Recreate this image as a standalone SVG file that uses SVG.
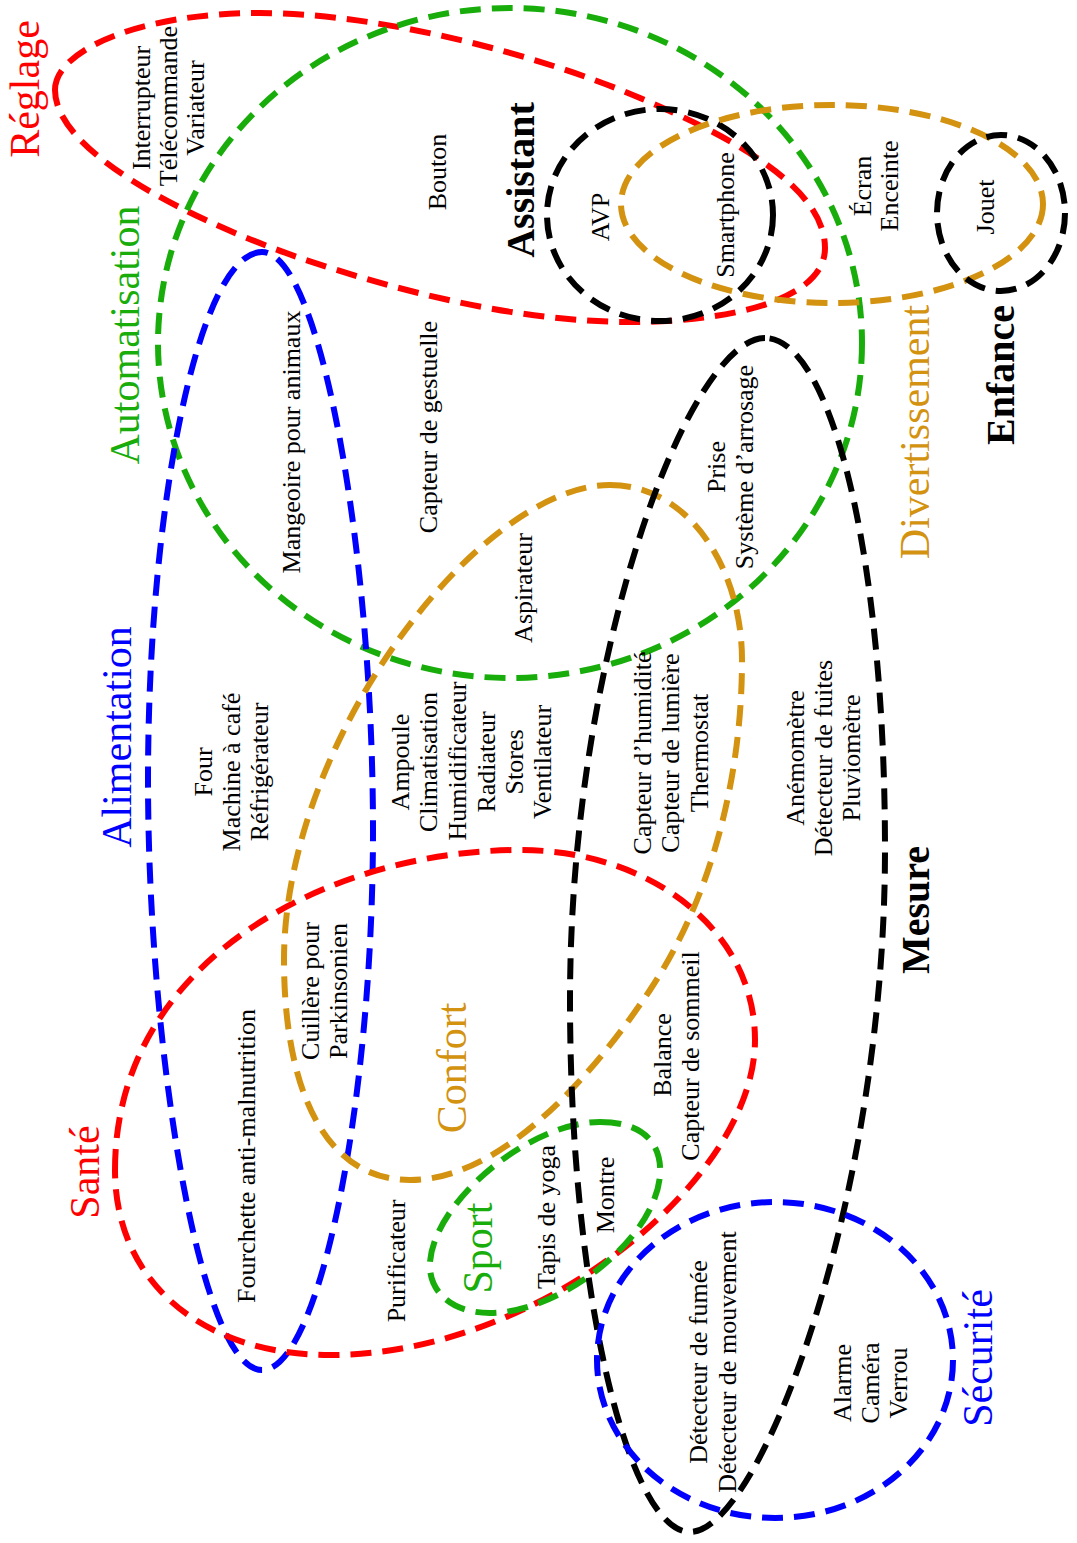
<svg xmlns="http://www.w3.org/2000/svg" width="1077" height="1543" viewBox="0 0 1077 1543">
<style>
.set{fill:none;stroke-width:6;stroke-dasharray:21 11;}
.it{font-family:"Liberation Serif","Times New Roman",serif;font-size:26px;fill:#000;text-anchor:middle;dominant-baseline:central;}
.lb{font-family:"Liberation Serif","Times New Roman",serif;font-size:42px;text-anchor:middle;dominant-baseline:central;}
.lbk{font-family:"Liberation Serif","Times New Roman",serif;font-size:40px;font-weight:bold;text-anchor:middle;dominant-baseline:central;fill:#000;}
.r{stroke:#ff0000}.g{stroke:#19ad0c}.b{stroke:#0000ff}.o{stroke:#d39210}.k{stroke:#000}
.fr{fill:#ff0000}.fg{fill:#19ad0c}.fb{fill:#0000ff}.fo{fill:#d39210}
</style>
<rect width="1077" height="1543" fill="#fff"/>
<g id="sets">
<path id="reglage-set" class="set r" d="M55,90 C55,50 140,13 260,13 C380,13 540,55 640,98 C740,140 825,190 825,248 C825,300 730,322 630,322 C520,322 400,292 300,258 C180,216 55,150 55,90 Z"/>
<ellipse id="automatisation-set" class="set g" cx="510" cy="343" rx="352" ry="335"/>
<path id="alimentation-set" class="set b" d="M262,252 C200,252 148,500 148,780 C148,1050 200,1370 262,1370 C320,1370 373,1100 373,830 C373,550 320,252 262,252 Z"/>
<path id="sante-set" class="set r" d="M115,1170 C115,960 330,850 520,850 C650,850 755,930 755,1040 C755,1180 540,1355 330,1355 C200,1355 115,1280 115,1170 Z"/>
<path id="confort-set" class="set o" d="M610,485 C690,485 742,570 742,660 C742,780 710,900 650,990 C590,1080 500,1180 410,1180 C320,1180 284,1080 284,960 C284,740 480,485 610,485 Z"/>
<path id="sport-set" class="set g" d="M600,1122 C645,1122 662,1145 660,1175 C655,1240 560,1313 490,1313 C450,1313 428,1290 430,1262 C435,1200 530,1122 600,1122 Z"/>
<path id="mesure-set" class="set k" d="M765,338 C690,338 570,650 570,1000 C570,1300 630,1532 690,1532 C760,1532 885,1200 885,850 C885,550 830,338 765,338 Z"/>
<ellipse id="assistant-set" class="set k" cx="660" cy="215" rx="113" ry="106"/>
<ellipse id="divertissement-set" class="set o" cx="832" cy="204" rx="211" ry="99"/>
<ellipse id="enfance-set" class="set k" cx="1001" cy="213" rx="64" ry="78"/>
<ellipse id="securite-set" class="set b" cx="775" cy="1360" rx="178" ry="158"/>
</g>
<g id="labels">
<text class="lb fr" transform="translate(25 89) rotate(-90)">Réglage</text>
<text class="lb fg" transform="translate(125 335) rotate(-90)">Automatisation</text>
<text class="lb fb" transform="translate(117 737) rotate(-90)">Alimentation</text>
<text class="lb fr" transform="translate(85 1172) rotate(-90)">Santé</text>
<text class="lb fo" transform="translate(452 1068) rotate(-90)">Confort</text>
<text class="lb fg" transform="translate(478 1248) rotate(-90)">Sport</text>
<text class="lbk" transform="translate(520 180) rotate(-90)">Assistant</text>
<text class="lb fo" transform="translate(915 432) rotate(-90)">Divertissement</text>
<text class="lbk" transform="translate(1000 375) rotate(-90)">Enfance</text>
<text class="lbk" transform="translate(915 910) rotate(-90)">Mesure</text>
<text class="lb fb" transform="translate(978 1358) rotate(-90)">Sécurité</text>
</g>
<g id="items-reglage">
<text class="it" transform="translate(141 108) rotate(-90)">Interrupteur</text>
<text class="it" transform="translate(168 106) rotate(-90)">Télécommande</text>
<text class="it" transform="translate(195 108) rotate(-90)">Variateur</text>
</g>
<g id="item-bouton"><text class="it" transform="translate(437 172) rotate(-90)">Bouton</text></g>
<g id="item-avp"><text class="it" transform="translate(600 217) rotate(-90)">AVP</text></g>
<g id="item-smartphone"><text class="it" transform="translate(725 215) rotate(-90)">Smartphone</text></g>
<g id="items-divertissement">
<text class="it" transform="translate(862 186) rotate(-90)">Écran</text>
<text class="it" transform="translate(889 186) rotate(-90)">Enceinte</text>
</g>
<g id="item-jouet"><text class="it" transform="translate(985 207) rotate(-90)">Jouet</text></g>
<g id="item-mangeoire"><text class="it" transform="translate(291 442) rotate(-90)">Mangeoire pour animaux</text></g>
<g id="item-gestuelle"><text class="it" transform="translate(428 427) rotate(-90)">Capteur de gestuelle</text></g>
<g id="item-aspirateur"><text class="it" transform="translate(523 588) rotate(-90)">Aspirateur</text></g>
<g id="items-prise">
<text class="it" transform="translate(716 467) rotate(-90)">Prise</text>
<text class="it" transform="translate(744 467) rotate(-90)">Système d’arrosage</text>
</g>
<g id="items-alimentation">
<text class="it" transform="translate(203 772) rotate(-90)">Four</text>
<text class="it" transform="translate(231 772) rotate(-90)">Machine à café</text>
<text class="it" transform="translate(259 772) rotate(-90)">Réfrigérateur</text>
</g>
<g id="items-confort-auto">
<text class="it" transform="translate(400 762) rotate(-90)">Ampoule</text>
<text class="it" transform="translate(428 762) rotate(-90)">Climatisation</text>
<text class="it" transform="translate(457 761) rotate(-90)">Humidificateur</text>
<text class="it" transform="translate(486 762) rotate(-90)">Radiateur</text>
<text class="it" transform="translate(514 762) rotate(-90)">Stores</text>
<text class="it" transform="translate(542 762) rotate(-90)">Ventilateur</text>
</g>
<g id="items-capteurs">
<text class="it" transform="translate(642 753) rotate(-90)">Capteur d’humidité</text>
<text class="it" transform="translate(670 753) rotate(-90)">Capteur de lumière</text>
<text class="it" transform="translate(699 753) rotate(-90)">Thermostat</text>
</g>
<g id="items-mesure">
<text class="it" transform="translate(795 758) rotate(-90)">Anémomètre</text>
<text class="it" transform="translate(823 758) rotate(-90)">Détecteur de fuites</text>
<text class="it" transform="translate(851 758) rotate(-90)">Pluviomètre</text>
</g>
<g id="item-fourchette"><text class="it" transform="translate(246 1156) rotate(-90)">Fourchette anti-malnutrition</text></g>
<g id="item-cuillere">
<text class="it" transform="translate(310 991) rotate(-90)">Cuillère pour</text>
<text class="it" transform="translate(338 991) rotate(-90)">Parkinsonien</text>
</g>
<g id="item-purificateur"><text class="it" transform="translate(396 1261) rotate(-90)">Purificateur</text></g>
<g id="item-tapis"><text class="it" transform="translate(546 1217) rotate(-90)">Tapis de yoga</text></g>
<g id="item-montre"><text class="it" transform="translate(605 1195) rotate(-90)">Montre</text></g>
<g id="items-sante-mesure">
<text class="it" transform="translate(662 1055) rotate(-90)">Balance</text>
<text class="it" transform="translate(690 1056) rotate(-90)">Capteur de sommeil</text>
</g>
<g id="items-detecteurs">
<text class="it" transform="translate(698 1362) rotate(-90)">Détecteur de fumée</text>
<text class="it" transform="translate(727 1362) rotate(-90)">Détecteur de mouvement</text>
</g>
<g id="items-securite">
<text class="it" transform="translate(842 1383) rotate(-90)">Alarme</text>
<text class="it" transform="translate(870 1383) rotate(-90)">Caméra</text>
<text class="it" transform="translate(898 1383) rotate(-90)">Verrou</text>
</g>
</svg>
